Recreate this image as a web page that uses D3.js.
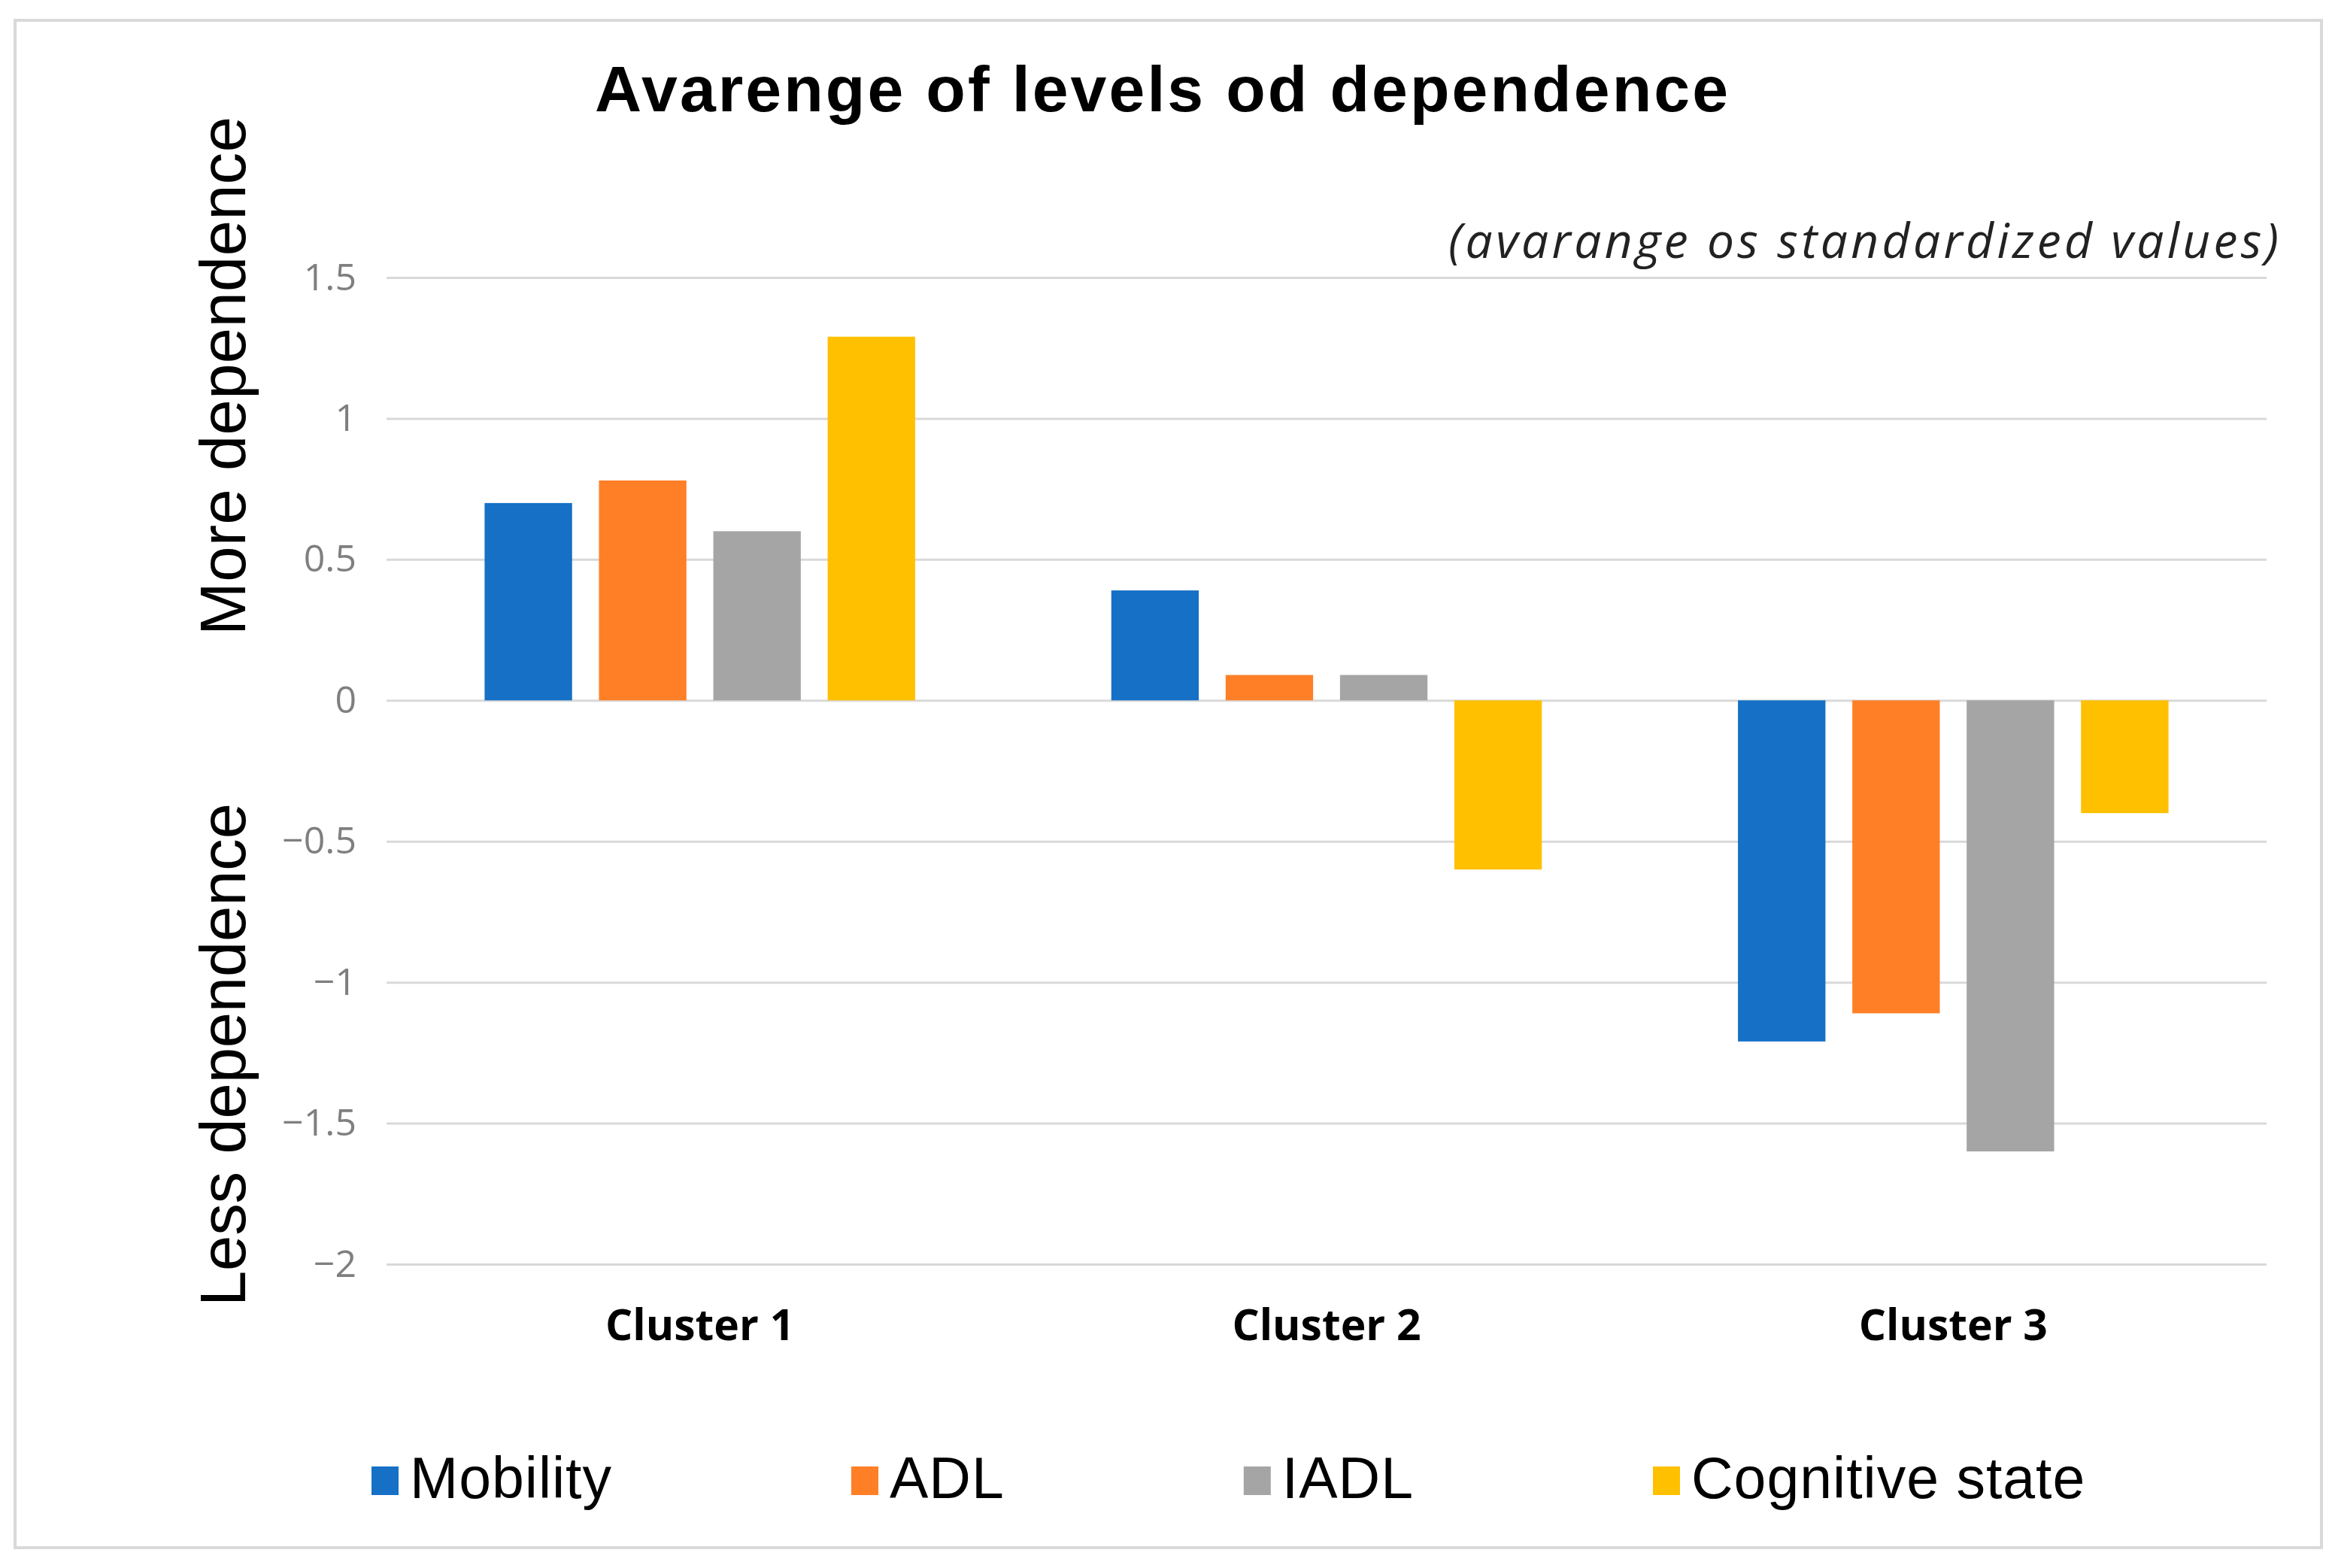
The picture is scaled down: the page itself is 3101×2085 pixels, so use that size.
<!DOCTYPE html>
<meta charset="utf-8">
<script src="https://cdn.jsdelivr.net/npm/d3@7"></script>
<style>
  body { margin:0; background:#fff; }
</style>
<svg id="chart"></svg>
<script>
  var width = 3101;
  var height = 2085;

  // data
  var clusters = ["Cluster 1", "Cluster 2", "Cluster 3"];
  var series = ["Mobility", "ADL", "IADL", "Cognitive state"];
  var mobility = [0.70, 0.39, -1.21];
  var adl = [0.78, 0.09, -1.11];
  var iadl = [0.60, 0.09, -1.60];
  var cognitive = [1.29, -0.60, -0.40];
  var yTicks = [1.5, 1, 0.5, 0, -0.5, -1, -1.5, -2];

  var values = [mobility, adl, iadl, cognitive];
  var colors = ["#1570c6", "#ff7f27", "#a5a5a5", "#ffc000"];

  var svg = d3.select("#chart").attr("width", width).attr("height", height);

  svg.append("rect")
    .attr("x", 20).attr("y", 27).attr("width", 3067).attr("height", 2031)
    .attr("fill", "#fff").attr("stroke", "#d9d9d9").attr("stroke-width", 4);

  var left = 514, right = 3014;
  var y = d3.scaleLinear().domain([-2, 1.5]).range([1681, 369]);
  var x0 = d3.scaleBand().domain(clusters).range([left, right])
    .paddingInner(0.313).paddingOuter(0.1565);
  var x1 = d3.scaleBand().domain(series).range([0, x0.bandwidth()])
    .paddingInner(0.235);

  // gridlines + tick labels
  var yAxis = d3.axisLeft(y).tickValues(yTicks)
    .tickSize(-(right - left)).tickPadding(40)
    .tickFormat(d3.format(""));
  var ga = svg.append("g").attr("transform", "translate(" + left + ",0)").call(yAxis);
  ga.select(".domain").remove();
  ga.selectAll(".tick line").attr("stroke", "#d9d9d9").attr("stroke-width", 3);
  ga.selectAll(".tick text")
    .attr("fill", "#7f7f7f")
    .style("font-family", "'Open Sans'")
    .style("font-size", "50px");

  // bars
  var groups = svg.append("g").selectAll("g")
    .data(clusters)
    .enter().append("g")
    .attr("transform", function(d) { return "translate(" + x0(d) + ",0)"; });

  groups.selectAll("rect")
    .data(function(d, i) {
      return series.map(function(s, j) { return {s: s, v: values[j][i], c: colors[j]}; });
    })
    .enter().append("rect")
    .attr("x", function(d) { return x1(d.s); })
    .attr("y", function(d) { return y(Math.max(0, d.v)); })
    .attr("width", x1.bandwidth())
    .attr("height", function(d) { return Math.abs(y(d.v) - y(0)); })
    .attr("fill", function(d) { return d.c; });

  // category labels
  svg.append("g").selectAll("text")
    .data(clusters)
    .enter().append("text")
    .attr("x", function(d) { return x0(d) + x0.bandwidth() / 2; })
    .attr("y", 1782)
    .attr("text-anchor", "middle")
    .style("font-family", "'Open Sans'")
    .style("font-weight", "bold")
    .style("font-size", "57px")
    .text(function(d) { return d; });

  // title + subtitle
  svg.append("text")
    .attr("x", 791).attr("y", 148)
    .attr("textLength", 1507).attr("lengthAdjust", "spacing")
    .style("font-family", "'Liberation Sans', Arial")
    .style("font-weight", "bold")
    .style("font-size", "86px")
    .text("Avarenge of levels od dependence");

  svg.append("text")
    .attr("x", 1926).attr("y", 343)
    .attr("textLength", 1104).attr("lengthAdjust", "spacing")
    .attr("fill", "#222")
    .style("font-family", "'Open Sans'")
    .style("font-style", "italic")
    .style("font-size", "64px")
    .text("(avarange os standardized values)");

  // side labels
  svg.append("text")
    .attr("transform", "translate(326,845) rotate(-90)")
    .attr("textLength", 690).attr("lengthAdjust", "spacing")
    .style("font-family", "'Liberation Sans', Arial")
    .style("font-size", "85px")
    .text("More dependence");

  svg.append("text")
    .attr("transform", "translate(326,1737) rotate(-90)")
    .attr("textLength", 669).attr("lengthAdjust", "spacing")
    .style("font-family", "'Liberation Sans', Arial")
    .style("font-size", "85px")
    .text("Less dependence");

  // legend
  var lx = 494;
  series.forEach(function(s, i) {
    svg.append("rect")
      .attr("x", lx).attr("y", 1950).attr("width", 36).attr("height", 38)
      .attr("fill", colors[i]);
    var t = svg.append("text")
      .attr("x", lx + 51).attr("y", 1992)
      .style("font-family", "'Liberation Sans', Arial")
      .style("font-size", "77px")
      .style("letter-spacing", "1px")
      .text(s);
    lx = lx + 51 + t.node().getComputedTextLength() + 318;
  });
</script>
